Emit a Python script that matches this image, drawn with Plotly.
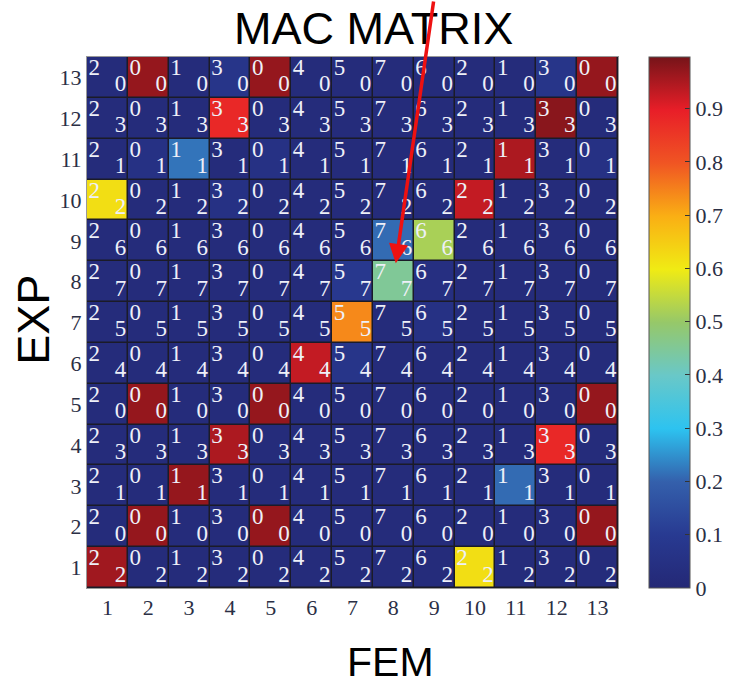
import plotly.graph_objects as go

fem = list(range(1, 14))
exp = list(range(1, 14))
tick_labels = [str(i) for i in range(1, 14)]
# mode label shown in the corner of each cell
fem_mode_ids = [2, 0, 1, 3, 0, 4, 5, 7, 6, 2, 1, 3, 0]
exp_mode_ids = [2, 0, 1, 3, 0, 4, 5, 7, 6, 2, 1, 3, 0]

b = 0.02
mac_exp1 = [0.96, b, b, b, b, b, b, b, b, 0.62, b, b, b]
mac_exp2 = [b, 0.97, b, b, 0.97, b, b, b, b, b, b, b, 0.97]
mac_exp3 = [b, b, 0.97, b, b, b, b, b, b, b, 0.21, b, b]
mac_exp4 = [b, b, b, 0.95, b, b, b, b, b, b, b, 0.88, b]
mac_exp5 = [b, 0.97, b, b, 0.97, b, b, b, b, b, b, b, 0.97]
mac_exp6 = [b, b, b, b, b, 0.93, 0.07, b, b, b, b, b, b]
mac_exp7 = [b, b, b, b, b, b, 0.74, b, 0.05, b, b, b, b]
mac_exp8 = [b, b, b, b, b, b, 0.09, 0.45, 0.04, b, b, b, b]
mac_exp9 = [b, b, b, b, b, b, b, 0.21, 0.52, b, b, b, b]
mac_exp10 = [0.62, b, b, 0.05, b, b, b, b, b, 0.93, b, b, b]
mac_exp11 = [b, 0.05, 0.22, b, 0.05, b, b, b, b, b, 0.95, b, 0.05]
mac_exp12 = [b, b, b, 0.88, b, b, b, b, b, b, b, 0.98, b]
mac_exp13 = [b, 0.97, b, 0.07, 0.97, b, b, b, b, b, b, 0.07, 0.97]

z = [mac_exp1, mac_exp2, mac_exp3, mac_exp4, mac_exp5, mac_exp6, mac_exp7,
     mac_exp8, mac_exp9, mac_exp10, mac_exp11, mac_exp12, mac_exp13]

jet = [
    [0.0, "rgb(36,40,118)"],
    [0.1, "rgb(40,58,145)"],
    [0.2, "rgb(52,96,172)"],
    [0.3, "rgb(45,195,240)"],
    [0.4, "rgb(105,200,200)"],
    [0.5, "rgb(150,200,105)"],
    [0.6, "rgb(240,235,20)"],
    [0.7, "rgb(250,175,20)"],
    [0.8, "rgb(240,85,35)"],
    [0.9, "rgb(232,30,40)"],
    [1.0, "rgb(118,20,25)"],
]

SERIF = "Liberation Serif"
tickfont = dict(family=SERIF, size=22, color="#2b2f45")

fig = go.Figure()
fig.add_trace(go.Heatmap(
    x=fem, y=exp, z=z, zmin=0, zmax=0.997, colorscale=jet,
    xgap=1.5, ygap=1.5, hoverinfo="skip",
    colorbar=dict(
        x=1.058, xanchor="left", y=0, yanchor="bottom", len=1.0, lenmode="fraction",
        xpad=0, ypad=0,
        thickness=41, outlinewidth=1, outlinecolor="#555",
        tickvals=[0, 0.1, 0.2, 0.3, 0.4, 0.5, 0.6, 0.7, 0.8, 0.9],
        ticktext=["0", "0.1", "0.2", "0.3", "0.4", "0.5", "0.6", "0.7", "0.8", "0.9"],
        ticks="inside", ticklen=5, tickcolor="#333",
        tickfont=tickfont,
    ),
))

tl_x, tl_y, tl_t, br_x, br_y, br_t = [], [], [], [], [], []
for i, e in enumerate(exp):
    for j, f in enumerate(fem):
        tl_x.append(f - 0.32); tl_y.append(e + 0.2); tl_t.append(str(fem_mode_ids[j]))
        br_x.append(f + 0.32); br_y.append(e - 0.2); br_t.append(str(exp_mode_ids[i]))

txtfont = dict(family=SERIF, size=23, color="#eef0f8")
fig.add_trace(go.Scatter(x=tl_x, y=tl_y, text=tl_t, mode="text", textfont=txtfont,
                         hoverinfo="skip", showlegend=False))
fig.add_trace(go.Scatter(x=br_x, y=br_y, text=br_t, mode="text", textfont=txtfont,
                         hoverinfo="skip", showlegend=False))

fig.update_xaxes(range=[0.5, 13.5], tickvals=fem, ticktext=tick_labels,
                 showgrid=False, zeroline=False, showline=True, mirror=True,
                 linecolor="#999", linewidth=1, ticks="", ticklen=0,
                 tickfont=tickfont)
fig.update_yaxes(range=[0.5, 13.5], tickvals=exp, ticktext=tick_labels,
                 showgrid=False, zeroline=False, showline=True, mirror=True,
                 linecolor="#999", linewidth=1, ticks="", ticklen=0,
                 tickfont=tickfont)

fig.add_annotation(text="MAC MATRIX", xref="paper", yref="paper", x=0.539, y=1.053,
                   xanchor="center", yanchor="middle", showarrow=False,
                   font=dict(family="Liberation Sans", size=45, color="black"))
fig.add_annotation(text="EXP", xref="paper", yref="paper", x=-0.1, y=0.505,
                   xanchor="center", yanchor="middle", showarrow=False, textangle=-90,
                   font=dict(family="Liberation Sans", size=45, color="black"))
fig.add_annotation(text="FEM", xref="paper", yref="paper", x=0.572, y=-0.14,
                   xanchor="center", yanchor="middle", showarrow=False,
                   font=dict(family="Liberation Sans", size=41, color="black"))
# red arrow pointing at cell (8,8)
fig.add_annotation(x=8.06, y=8.45, xref="x", yref="y", ax=38, ay=-272, axref="pixel",
                   ayref="pixel", showarrow=True, arrowhead=2, arrowsize=1.1,
                   arrowwidth=3.5, arrowcolor="#ee1111", text="")

fig.update_layout(
    width=746, height=688, margin=dict(l=87, r=128, t=57, b=100),
    plot_bgcolor="#1b1b28", paper_bgcolor="white", showlegend=False,
    font=dict(family=SERIF),
)
fig.write_html("out.html")
